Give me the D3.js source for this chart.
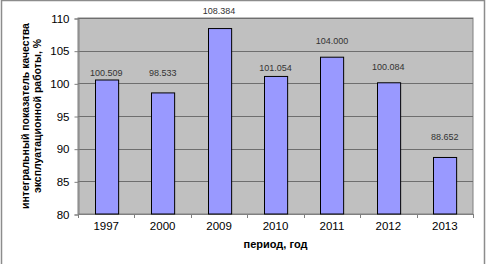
<!DOCTYPE html>
<html>
<head>
<meta charset="utf-8">
<script src="https://cdn.jsdelivr.net/npm/d3@7"></script>
<style>
  body { margin: 0; background: #fff; }
  svg { display: block; font-family: Arial, "Liberation Sans", sans-serif; }
</style>
</head>
<body>
<div id="chart"></div>
<script>
let years = ['1997', '2000', '2009', '2010', '2011', '2012', '2013'];
let values = [100.509, 98.533, 108.384, 101.054, 104.000, 100.084, 88.652];
let yTicks = [80, 85, 90, 95, 100, 105, 110];

let w = 486;
let h = 264;
let margin = {top: 18, right: 13, bottom: 50, left: 78};
// data labels were nudged by hand in the original, px above bar top
let labelLift = [7, 20, 18, 8, 16, 16, 20];

let svg = d3.select('#chart')
    .append('svg')
    .attr('width', w)
    .attr('height', h);

// outer frame
svg.append('path')
    .attr('d', `M1.5,${h} V0.5 H484.5 V${h}`)
    .attr('fill', 'none')
    .attr('stroke', '#8c8c8c')
    .attr('stroke-width', 1.5);

let xScale = d3.scaleBand()
    .domain(years)
    .range([margin.left, w - margin.right])
    .paddingInner(0.59)
    .paddingOuter(0.295);

let yScale = d3.scaleLinear()
    .domain([80, 110])
    .range([h - margin.bottom, margin.top]);

// plot area
svg.append('rect')
    .attr('x', margin.left)
    .attr('y', margin.top)
    .attr('width', w - margin.right - margin.left)
    .attr('height', h - margin.bottom - margin.top)
    .attr('fill', '#c0c0c0')
    .attr('stroke', '#808080');

svg.append('g')
    .selectAll('line')
    .data(yTicks)
    .enter()
    .append('line')
    .attr('x1', margin.left)
    .attr('x2', w - margin.right)
    .attr('y1', d => Math.round(yScale(d)) + 0.5)
    .attr('y2', d => Math.round(yScale(d)) + 0.5)
    .attr('stroke', '#6e6e6e')
    .attr('stroke-width', 1);

let yAxis = d3.axisLeft(yScale)
    .tickValues(yTicks)
    .tickSize(4)
    .tickPadding(5);

let gy = svg.append('g')
    .attr('transform', 'translate(' + (margin.left + 0.5) + ',0.5)')
    .call(yAxis);
gy.selectAll('path, line').attr('stroke', '#808080');
gy.selectAll('text').style('font-size', '11.5px').attr('fill', '#000');

let boundaries = d3.range(years.length + 1).map(i => margin.left + i * (w - margin.right - margin.left) / years.length);

let gx = svg.append('g');
gx.append('line')
    .attr('x1', margin.left)
    .attr('x2', w - margin.right)
    .attr('y1', h - margin.bottom + 0.5)
    .attr('y2', h - margin.bottom + 0.5)
    .attr('stroke', '#808080');
gx.selectAll('.tick')
    .data(boundaries)
    .enter()
    .append('line')
    .attr('x1', d => Math.round(d) + 0.5)
    .attr('x2', d => Math.round(d) + 0.5)
    .attr('y1', h - margin.bottom)
    .attr('y2', h - margin.bottom + 4)
    .attr('stroke', '#808080');
gx.selectAll('text')
    .data(years)
    .enter()
    .append('text')
    .attr('x', d => xScale(d) + xScale.bandwidth() / 2)
    .attr('y', h - margin.bottom + 16)
    .attr('text-anchor', 'middle')
    .style('font-size', '11.5px')
    .text(d => d);

// bars
svg.append('g')
    .selectAll('rect')
    .data(values)
    .enter()
    .append('rect')
    .attr('x', (d, i) => Math.round(xScale(years[i])) + 0.5)
    .attr('y', d => yScale(d))
    .attr('width', xScale.bandwidth())
    .attr('height', d => yScale(80) - yScale(d))
    .attr('fill', '#9999ff')
    .attr('stroke', '#000')
    .attr('stroke-width', 1);

// value labels
svg.append('g')
    .selectAll('text')
    .data(values)
    .enter()
    .append('text')
    .attr('x', (d, i) => xScale(years[i]) + xScale.bandwidth() / 2)
    .attr('y', (d, i) => yScale(d) - labelLift[i] + 3)
    .attr('text-anchor', 'middle')
    .style('font-size', '9px')
    .attr('fill', '#333')
    .text(d => d3.format('.3f')(d));

// axis titles
svg.append('text')
    .attr('x', (margin.left + w - margin.right) / 2)
    .attr('y', 248)
    .attr('text-anchor', 'middle')
    .style('font-size', '11px')
    .style('font-weight', 'bold')
    .text('период, год');

let yTitle = svg.append('text')
    .attr('transform', 'translate(25,' + ((margin.top + h - margin.bottom) / 2) + ') rotate(-90)')
    .attr('text-anchor', 'middle')
    .style('font-size', '10.5px')
    .style('font-weight', 'bold');
yTitle.append('tspan').attr('x', 0).attr('dy', '0.35em').text('интегральный показатель качества');
yTitle.append('tspan').attr('x', 0).attr('dy', '1.15em').text('эксплуатационной работы, %');
</script>
</body>
</html>
